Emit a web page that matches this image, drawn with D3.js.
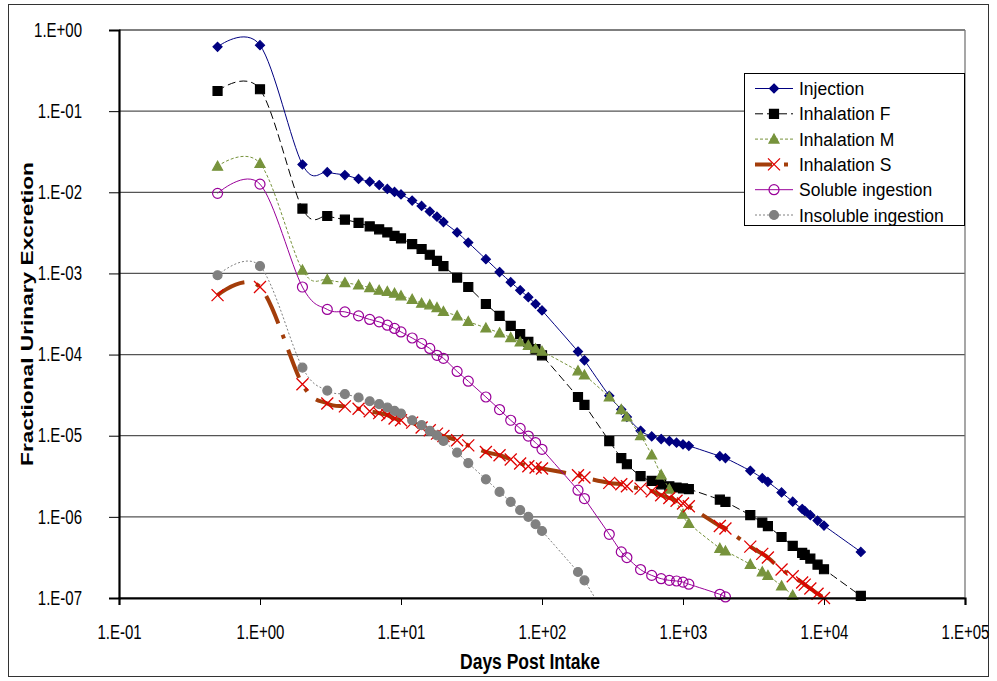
<!DOCTYPE html>
<html>
<head>
<meta charset="utf-8">
<script src="https://cdn.jsdelivr.net/npm/d3@7"></script>
<style>
  body { margin: 0; background: #fff; }
  text { font-family: "Liberation Sans", Arial, sans-serif; }
</style>
</head>
<body>
<svg id="chart" width="997" height="681"></svg>
<script>
// days post intake (sampling times)
var days = [0.5, 1, 2, 3, 4, 5, 6, 7, 8, 9, 10, 12, 14, 16, 18, 20, 25, 30, 40, 50,
    60, 70, 80, 90, 100, 180, 200, 300, 365, 400, 500, 600, 700, 800, 900, 1000, 1100,
    1825, 2000, 3000, 3650, 4000, 5000, 6000, 7000, 7300, 8000, 9000, 10000, 18250];

var injection = [0.62, 0.65, 0.022, 0.0177, 0.0163, 0.0146, 0.0135, 0.0123, 0.011, 0.0101,
    0.0094, 0.0079, 0.0068, 0.0058, 0.005, 0.0043, 0.0032, 0.0024, 0.0015, 0.00104,
    0.00078, 0.00062, 0.00051, 0.00042, 0.00035, 1.09e-4, 8.5e-5, 3.1e-5, 2.1e-5, 1.7e-5,
    1.15e-5, 9.8e-6, 9.1e-6, 8.6e-6, 8.2e-6, 7.8e-6, 7.5e-6,
    5.6e-6, 5.3e-6, 3.7e-6, 3.0e-6, 2.7e-6, 2.0e-6, 1.54e-6, 1.25e-6, 1.18e-6, 1.05e-6, 9.0e-7, 7.8e-7, 3.7e-7];

var inhalationF = [0.177, 0.186, 0.0063, 0.0051, 0.0046, 0.0042, 0.0038, 0.0035, 0.0032, 0.0029,
    0.0027, 0.0023, 0.002, 0.0017, 0.00143, 0.00123, 0.00089, 0.00068, 0.00042, 0.0003,
    2.26e-4, 1.79e-4, 1.43e-4, 1.17e-4, 9.8e-5, 3.0e-5, 2.4e-5, 8.6e-6, 5.3e-6, 4.45e-6,
    3.17e-6, 2.77e-6, 2.52e-6, 2.38e-6, 2.3e-6, 2.24e-6, 2.2e-6,
    1.63e-6, 1.53e-6, 1.05e-6, 8.5e-7, 7.7e-7, 5.65e-7, 4.4e-7, 3.6e-7, 3.4e-7, 3.06e-7, 2.58e-7, 2.26e-7, 1.06e-7];

var inhalationM = [0.021, 0.0227, 0.0011, 0.00084, 0.00077, 0.00072, 0.00067, 0.00062, 0.0006, 0.00057,
    0.00053, 0.00048, 0.00043, 0.00041, 0.00038, 0.00034, 0.0003, 2.56e-4, 2.13e-4, 1.85e-4,
    1.62e-4, 1.43e-4, 1.3e-4, 1.18e-4, 1.1e-4, 6.3e-5, 5.6e-5, 3.0e-5, 2.1e-5, 1.7e-5,
    1.0e-5, 5.8e-6, 3.3e-6, 2.2e-6, null, 1.08e-6, 8.3e-7,
    4.1e-7, 3.8e-7, 2.6e-7, 2.1e-7, 1.9e-7, 1.41e-7, 1.08e-7, 8.5e-8, null, null, null, null, null];

var inhalationS = [0.00054, 0.00068, 4.3e-5, 2.5e-5, 2.3e-5, 2.15e-5, 2.0e-5, 1.9e-5, 1.8e-5, 1.63e-5,
    1.55e-5, 1.45e-5, 1.26e-5, 1.17e-5, 1.06e-5, 9.9e-6, 8.8e-6, 7.6e-6, 6.3e-6, 5.75e-6,
    5.1e-6, 4.55e-6, 4.2e-6, 4.05e-6, 3.95e-6, 3.25e-6, 3.05e-6, 2.62e-6, 2.52e-6, 2.38e-6,
    2.23e-6, 2.07e-6, 1.85e-6, 1.71e-6, 1.58e-6, 1.46e-6, 1.35e-6,
    7.7e-7, 7.2e-7, 4.3e-7, 3.5e-7, 3.15e-7, 2.25e-7, 1.85e-7, 1.55e-7, 1.46e-7, 1.31e-7, 1.13e-7, 1.0e-7, null];

var solubleIng = [0.0097, 0.0126, 0.00068, 0.00036, 0.000336, 0.0003, 0.000271, 0.000253, 0.00023, 0.00021,
    0.00019, 0.00016, 0.000137, 0.000119, 9.8e-5, 9.0e-5, 6.2e-5, 4.7e-5, 3.0e-5, 2.1e-5,
    1.55e-5, 1.23e-5, 9.9e-6, 8.2e-6, 6.8e-6, 2.13e-6, 1.68e-6, 6.1e-7, 3.7e-7, 3.15e-7,
    2.24e-7, 1.9e-7, 1.73e-7, 1.65e-7, 1.62e-7, 1.57e-7, 1.48e-7,
    1.11e-7, 1.03e-7, 7.5e-8, null, null, null, null, null, null, null, null, null, null];

var insolubleIng = [0.00095, 0.00123, 6.9e-5, 3.6e-5, 3.25e-5, 2.96e-5, 2.66e-5, 2.45e-5, 2.23e-5, 2.02e-5,
    1.88e-5, 1.55e-5, 1.35e-5, 1.15e-5, 1.01e-5, 8.6e-6, 6.2e-6, 4.6e-6, 2.9e-6, 2.03e-6,
    1.53e-6, 1.21e-6, 1.0e-6, 8.1e-7, 6.7e-7, 2.09e-7, 1.65e-7, 5.0e-8, null, null,
    null, null, null, null, null, null, null,
    null, null, null, null, null, null, null, null, null, null, null, null, null];

var seriesNames = ["Injection", "Inhalation F", "Inhalation M", "Inhalation S", "Soluble ingestion", "Insoluble ingestion"];
var seriesValues = [injection, inhalationF, inhalationM, inhalationS, solubleIng, insolubleIng];

var xTicks = [0.1, 1, 10, 100, 1000, 10000, 100000];
var yTicks = [1e-7, 1e-6, 1e-5, 1e-4, 1e-3, 1e-2, 1e-1, 1];

// look of each series, same order as seriesNames
var styles = [
    { line: "#000080", width: 1, dash: null, marker: "diamond", mfill: "#000080", mstroke: "#000080" },
    { line: "#000000", width: 1, dash: "8,4", marker: "square", mfill: "#000000", mstroke: "#000000" },
    { line: "#77933C", width: 1, dash: "3,2", marker: "triangle", mfill: "#77933C", mstroke: "#77933C" },
    { line: "#A33D0A", width: 4, dash: "30,12,4,12", marker: "x", mfill: "none", mstroke: "#E00000" },
    { line: "#990099", width: 1, dash: null, marker: "circle", mfill: "none", mstroke: "#990099" },
    { line: "#808080", width: 1, dash: "2,2", marker: "dot", mfill: "#808080", mstroke: "#808080" }
];

var margin = { top: 30, right: 32, bottom: 83, left: 119 };
var width = 997 - margin.left - margin.right,
    height = 681 - margin.top - margin.bottom;
var stretch = 1.3; // text in the picture is drawn taller than normal

var x = d3.scaleLog().domain([0.1, 1e5]).range([0, width]);
var y = d3.scaleLog().domain([1e-7, 1]).range([height, 0]);

function expo(d) {
    var e = Math.round(Math.log10(d));
    return "1.E" + (e < 0 ? "-" : "+") + String(Math.abs(e)).padStart(2, "0");
}

function markerPath(type) {
    switch (type) {
        case "diamond": return "M0,-4.5L4.5,0L0,4.5L-4.5,0Z";
        case "square": return "M-4.5,-4.5H4.5V4.5H-4.5Z";
        case "triangle": return "M0,-5L5,4L-5,4Z";
        case "x": return "M-6,-6L6,6M-6,6L6,-6";
        case "circle": return d3.symbol().type(d3.symbolCircle).size(Math.PI * 25)();
        case "dot": return d3.symbol().type(d3.symbolCircle).size(Math.PI * 20)();
    }
}

var svg = d3.select("#chart");

// chart frame
svg.append("rect")
    .attr("x", 8.5).attr("y", 4.5)
    .attr("width", 980).attr("height", 672)
    .attr("fill", "#fff").attr("stroke", "#333").attr("stroke-width", 1);

var g = svg.append("g").attr("transform", "translate(" + margin.left + "," + margin.top + ")");

// gridlines
g.append("g").selectAll("line")
    .data(yTicks)
    .enter().append("line")
    .attr("x1", 0).attr("x2", width)
    .attr("y1", d => y(d)).attr("y2", d => y(d))
    .attr("stroke", "#555").attr("stroke-width", 1.3);

// plot area right border
g.append("line")
    .attr("x1", width).attr("x2", width).attr("y1", 0).attr("y2", height)
    .attr("stroke", "#777").attr("stroke-width", 1.3);

g.append("clipPath").attr("id", "plotClip")
    .append("rect").attr("width", width).attr("height", height);

var line = d3.line()
    .x(d => x(d.x))
    .y(d => y(d.y))
    .curve(d3.curveCardinal);

seriesValues.forEach(function (vals, i) {
    var st = styles[i];
    var pts = days.map((d, j) => ({ x: d, y: vals[j] })).filter(p => p.y != null);

    g.append("path")
        .datum(pts)
        .attr("clip-path", "url(#plotClip)")
        .attr("fill", "none")
        .attr("stroke", st.line)
        .attr("stroke-width", st.width)
        .attr("stroke-dasharray", st.dash)
        .attr("d", line);

    g.append("g").selectAll("path")
        .data(pts.filter(p => p.y >= 0.97e-7))
        .enter().append("path")
        .attr("transform", p => "translate(" + x(p.x) + "," + y(p.y) + ")")
        .attr("d", markerPath(st.marker))
        .attr("fill", st.mfill)
        .attr("stroke", st.mstroke)
        .attr("stroke-width", st.marker == "x" ? 1.3 : 1.2);
});

// axes
var yAxis = g.append("g")
    .call(d3.axisLeft(y).tickValues(yTicks).tickFormat(expo).tickSize(10).tickPadding(27));
var xAxis = g.append("g")
    .attr("transform", "translate(0," + height + ")")
    .call(d3.axisBottom(x).tickValues(xTicks).tickFormat(expo).tickSize(7));

[yAxis, xAxis].forEach(function (a) {
    a.select(".domain").attr("stroke", "#000").attr("stroke-width", 2.2);
    a.selectAll(".tick line").attr("stroke", "#000").attr("stroke-width", 1);
    a.selectAll(".tick text").attr("font-size", "15px").attr("fill", "#000")
        .attr("font-family", '"Liberation Sans", Arial, sans-serif')
        .attr("transform", "scale(1," + stretch + ")");
});
xAxis.selectAll(".tick text").attr("y", 21).attr("dy", "0.71em");

// axis titles
svg.append("text")
    .attr("transform", "translate(530,669) scale(1," + stretch + ")")
    .attr("text-anchor", "middle")
    .attr("font-size", "17.5px").attr("font-weight", "bold")
    .text("Days Post Intake");

svg.append("text")
    .attr("transform", "translate(33,314) rotate(-90) scale(1.42,1)")
    .attr("text-anchor", "middle")
    .attr("font-size", "16px").attr("font-weight", "bold")
    .text("Fractional Urinary Excretion");

// legend
var legend = svg.append("g");
legend.append("rect")
    .attr("x", 744.5).attr("y", 73.5)
    .attr("width", 220).attr("height", 152)
    .attr("fill", "#fff").attr("stroke", "#000").attr("stroke-width", 1);

var legendRow = 25.3;
seriesNames.forEach(function (name, i) {
    var st = styles[i];
    var ly = 88.5 + i * legendRow;
    legend.append("line")
        .attr("x1", 755).attr("x2", 793).attr("y1", ly).attr("y2", ly)
        .attr("stroke", st.line).attr("stroke-width", st.width)
        .attr("stroke-dasharray", st.dash)
        .attr("stroke-dashoffset", st.marker == "x" ? 13 : 0);
    legend.append("path")
        .attr("transform", "translate(774," + ly + ")")
        .attr("d", markerPath(st.marker))
        .attr("fill", st.mfill).attr("stroke", st.mstroke)
        .attr("stroke-width", st.marker == "x" ? 1.3 : 1.2);
    legend.append("text")
        .attr("transform", "translate(799," + (ly + 6.5) + ") scale(1,1.1)")
        .attr("font-size", "17.5px")
        .text(name);
});
</script>
</body>
</html>
